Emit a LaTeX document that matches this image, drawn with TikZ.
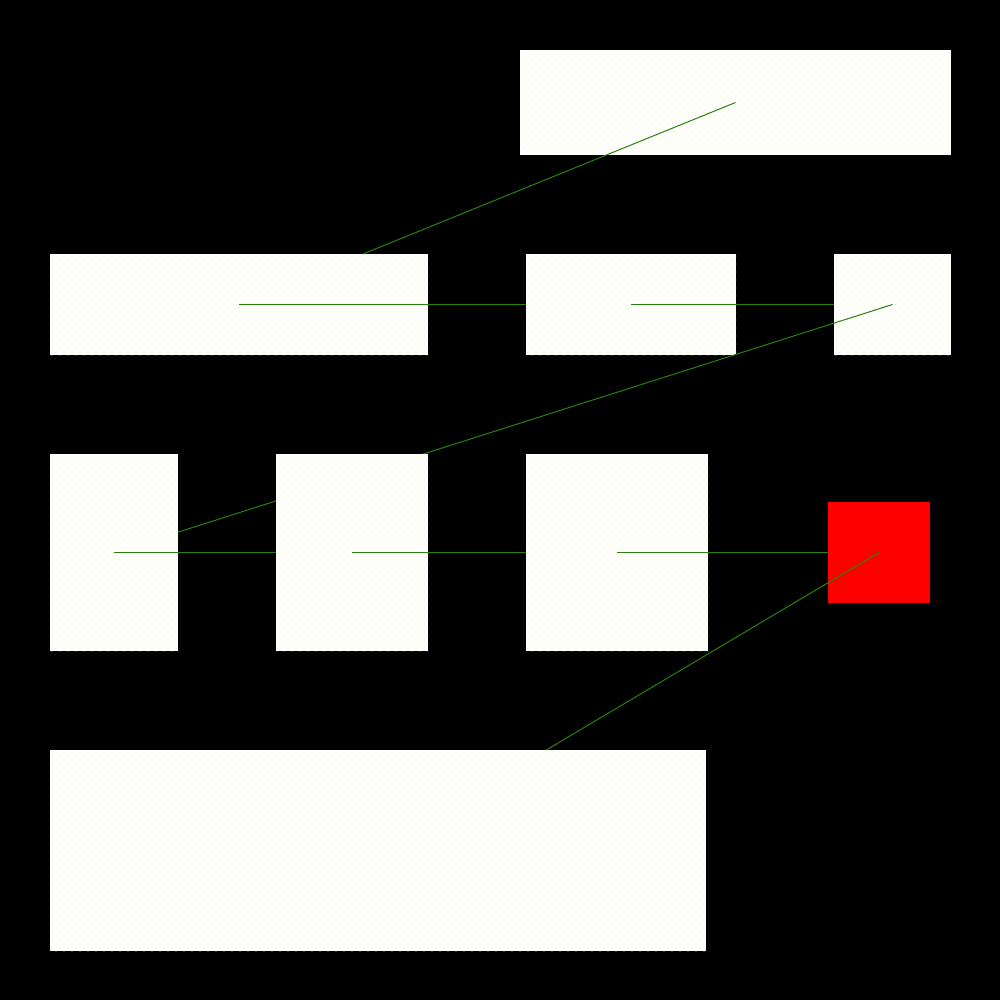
\documentclass[tikz,border=0pt]{standalone}
\usetikzlibrary{patterns.meta}
\tikzdeclarepattern{
  name=ydots,
  bottom left={(-2pt,-2pt)},
  top right={(6pt,6pt)},
  tile size={(8pt,8pt)},
  code={
    \fill (0pt,0pt) circle (0.55pt);
    \fill (4pt,4pt) circle (0.55pt);
  }
}
\definecolor{edgegreen}{RGB}{40,130,10}
\definecolor{dotyellow}{RGB}{250,245,90}
\tikzset{
  box/.style={rectangle, draw=none, fill=white, inner sep=0pt, outer sep=0pt,
    postaction={pattern=ydots, pattern color=dotyellow}},
  redbox/.style={rectangle, draw=none, fill=red, inner sep=0pt, outer sep=0pt},
  link/.style={draw=edgegreen, line width=1pt}
}
\begin{document}
\begin{tikzpicture}[x=1pt,y=-1pt]
\fill[black] (0,0) rectangle (1000,1000);
\useasboundingbox (0,0) rectangle (1000,1000);
% nodes (D drawn later)
\node[box, minimum width=431pt, minimum height=105pt] (top) at (735.5,102.5) {};
\node[box, minimum width=378pt, minimum height=101pt] (A) at (239,304.5) {};
\node[box, minimum width=210pt, minimum height=101pt] (B) at (631,304.5) {};
\node[box, minimum width=117pt, minimum height=101pt] (C) at (892.5,304.5) {};
\node[box, minimum width=128pt, minimum height=197pt] (E) at (114,552.5) {};
\node[box, minimum width=182pt, minimum height=197pt] (F) at (617,552.5) {};
\node[redbox, minimum width=102pt, minimum height=101pt] (G) at (879,552.5) {};
\node[box, minimum width=656pt, minimum height=201pt] (H) at (378,850.5) {};
% edge hidden under D
\draw[link] (C.center) -- (E);
\node[box, minimum width=152pt, minimum height=197pt] (D) at (352,552.5) {};
% remaining edges
\draw[link] (top.center) -- (A);
\draw[link] (A.center) -- (B);
\draw[link] (B.center) -- (C);
\draw[link] (E.center) -- (D);
\draw[link] (D.center) -- (F);
\draw[link] (F.center) -- (G);
\draw[link] (G.center) -- (H);
\end{tikzpicture}
\end{document}
